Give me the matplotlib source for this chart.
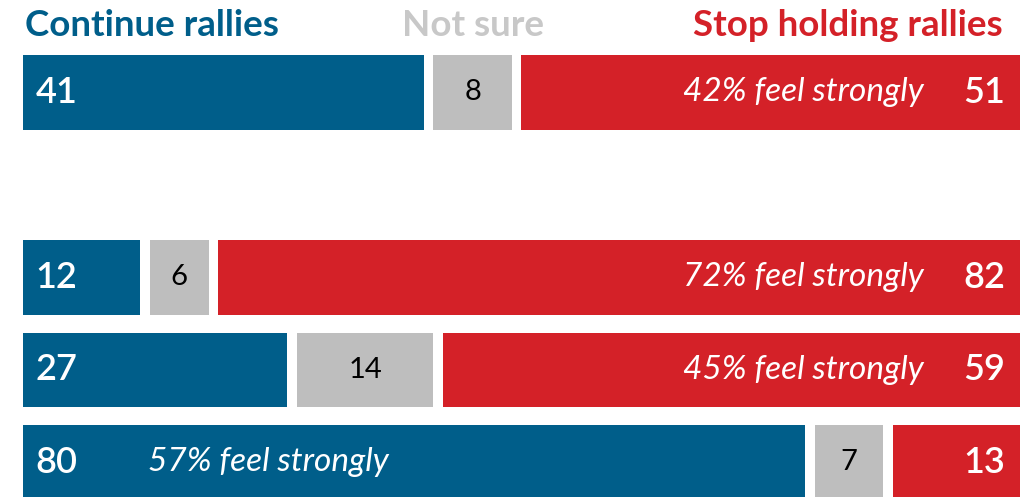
import matplotlib
matplotlib.use("Agg")
import matplotlib.pyplot as plt

# rows from top; the empty slot after the first row is kept as a gap
rows = [0, 2, 3, 4]
continue_vals = [41, 12, 27, 80]
notsure_vals = [8, 6, 14, 7]
stop_vals = [51, 82, 59, 13]
strongly = ["42% feel strongly", "72% feel strongly", "45% feel strongly", "57% feel strongly"]
strongly_side = ["stop", "stop", "stop", "continue"]
headers = ["Continue rallies", "Not sure", "Stop holding rallies"]

BLUE = "#005E8A"
GRAY = "#BEBEBE"
RED = "#D42128"

plt.rcParams["font.family"] = ["Lato", "DejaVu Sans"]

fig = plt.figure(figsize=(10.30, 4.97), dpi=100)
left_px, right_px = 23, 1020
ax = fig.add_axes([left_px / 1030, 0, (right_px - left_px) / 1030, 1])
gap = 0.97
total = 100 + 2 * gap
ax.set_xlim(0, total)
ax.set_ylim(497 / 92.5 - 1, -1)
ax.axis("off")

h = 0.81
for r, c, n, s, lab, side in zip(rows, continue_vals, notsure_vals, stop_vals, strongly, strongly_side):
    ax.barh(r, c, left=0, height=h, color=BLUE)
    ax.barh(r, n, left=c + gap, height=h, color=GRAY)
    ax.barh(r, s, left=c + n + 2 * gap, height=h, color=RED)
    ax.text(1.3, r, str(c), color="white", fontsize=26, fontweight="semibold",
            ha="left", va="center")
    ax.text(c + gap + n / 2, r, str(n), color="black", fontsize=21,
            ha="center", va="center")
    ax.text(total - 1.5, r, str(s), color="white", fontsize=26, fontweight="semibold",
            ha="right", va="center")
    if side == "stop":
        ax.text(total - 9.8, r, lab, color="white", fontsize=24, style="italic",
                ha="right", va="center")
    else:
        ax.text(12.8, r, lab, color="white", fontsize=24, style="italic",
                ha="left", va="center")

hy = -0.72
ax.text(0.2, hy, headers[0], color=BLUE, fontsize=26.5, fontweight="bold", ha="left", va="center")
ax.text(continue_vals[0] + gap + notsure_vals[0] / 2, hy, headers[1], color="#C8C8C8",
        fontsize=26.5, fontweight="bold", ha="center", va="center")
ax.text(total - 1.8, hy, headers[2], color=RED, fontsize=26.5, fontweight="bold", ha="right", va="center")

fig.savefig("out.png", dpi=100)
